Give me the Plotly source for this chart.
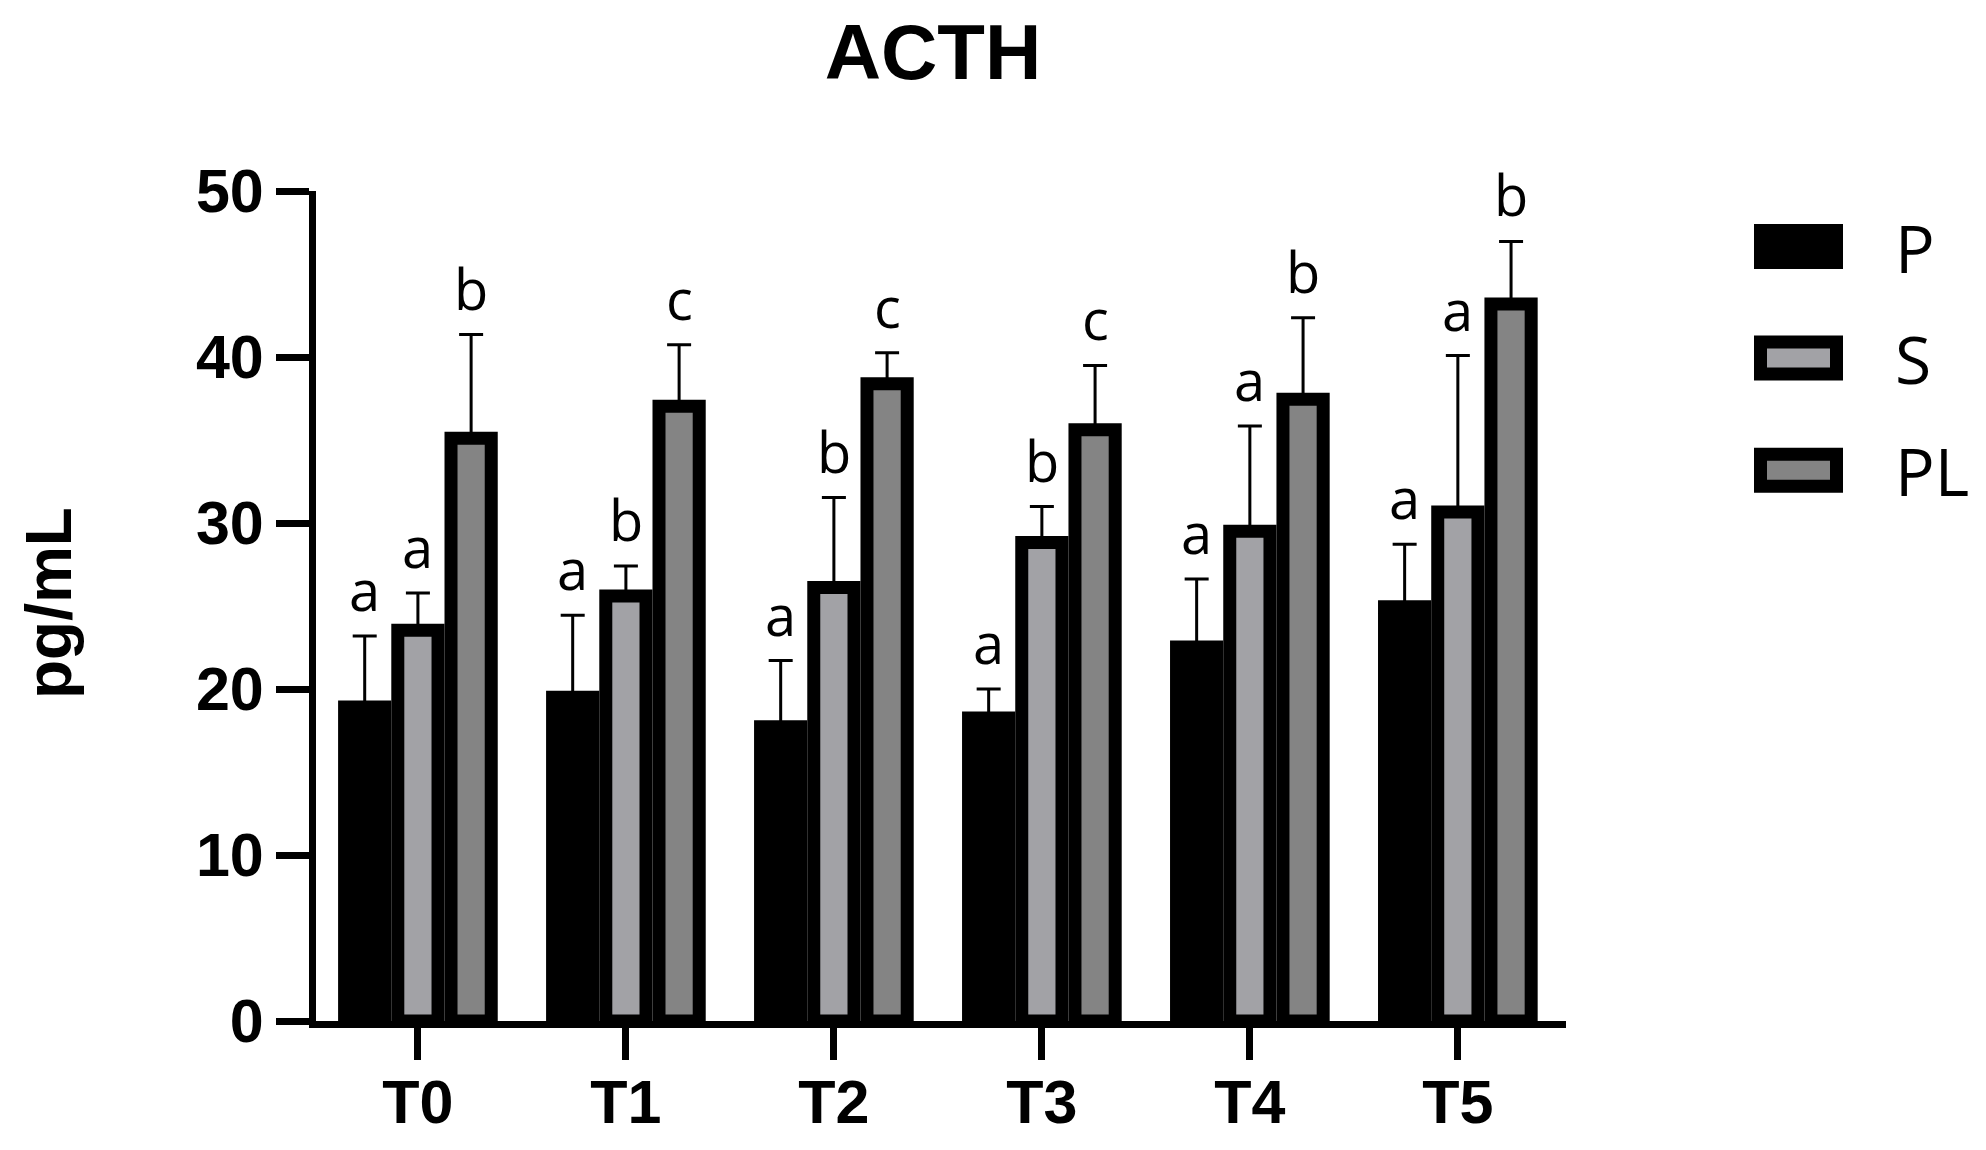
import plotly.graph_objects as go

# ---------------- data ----------------
categories = ["T0", "T1", "T2", "T3", "T4", "T5"]
groups = ["P", "S", "PL"]

p_mean = [18.91, 19.50, 17.73, 18.25, 22.53, 24.95]
p_err = [4.29, 4.95, 3.98, 1.75, 4.09, 3.77]
s_mean = [23.54, 25.60, 26.12, 28.83, 29.50, 30.67]
s_err = [2.25, 1.81, 5.41, 2.16, 6.34, 9.42]
pl_mean = [35.10, 37.03, 38.39, 35.62, 37.45, 43.20]
pl_err = [6.25, 3.71, 1.86, 3.87, 4.91, 3.76]

p_letters = ["a", "a", "a", "a", "a", "a"]
s_letters = ["a", "b", "b", "b", "a", "a"]
pl_letters = ["b", "c", "c", "c", "b", "b"]

y_ticks = [0, 10, 20, 30, 40, 50]

# ---------------- style / geometry ----------------
W, H = 1986, 1150
SH = 8  # page body margin compensation
L, R, T, B = 316 - SH, 420 + SH, 191 - SH, 129 + SH
BARGAP = 0.2325
LW = 13
BARGROUPGAP = 0.244
fills = {"P": "#000000", "S": "#A2A2A6", "PL": "#848484"}

TICK_FONT = dict(family="Liberation Sans, Arial, sans-serif", size=61, color="black", weight="bold")
LETTER_FONT = dict(family="Open Sans, sans-serif", size=56, color="black")
LEGEND_FONT = dict(family="Open Sans, sans-serif", size=66, color="black")

series = [
    ("P", p_mean, p_err, p_letters),
    ("S", s_mean, s_err, s_letters),
    ("PL", pl_mean, pl_err, pl_letters),
]

fig = go.Figure()
for name, mean, err, _ in series:
    fig.add_trace(go.Bar(
        name=name,
        x=categories,
        y=mean,
        marker=dict(color=fills[name], line=dict(color="black", width=LW)),
        error_y=dict(type="data", symmetric=False, array=err,
                     arrayminus=[0] * len(err), color="black",
                     thickness=3, width=12),
        showlegend=False,
    ))

# significance letters above error bars
slot = (1 - BARGAP) / len(series)
annotations = []
for gi, (name, mean, err, letters) in enumerate(series):
    off = (gi - (len(series) - 1) / 2) * slot
    for ci, cat in enumerate(categories):
        annotations.append(dict(
            x=ci + off, y=mean[ci] + err[ci], xref="x", yref="y",
            text=letters[ci], showarrow=False, font=LETTER_FONT,
            xanchor="center", yanchor="middle", yshift=47,
        ))

plot_w = W - L - R
plot_h = H - T - B


def px_x(px):
    return (px - SH - L) / plot_w


def px_y(py):
    return (H - B - (py - SH)) / plot_h


# y-axis title
annotations.append(dict(
    x=px_x(49), y=px_y(603), xref="paper", yref="paper",
    text="pg/mL", textangle=-90, showarrow=False,
    font=dict(family="Liberation Sans, Arial, sans-serif", size=64, color="black", weight="bold"),
    xanchor="center", yanchor="middle",
))

# custom legend
shapes = []
box_x0, box_x1 = 1754, 1843
box_tops = [224, 335.5, 447.7]
box_h = 45
for (name, _, _, _), top in zip(series, box_tops):
    inset = LW / 2
    shapes.append(dict(
        type="rect", xref="paper", yref="paper",
        x0=px_x(box_x0 + inset), x1=px_x(box_x1 - inset),
        y0=px_y(top + box_h - inset), y1=px_y(top + inset),
        fillcolor=fills[name], line=dict(color="black", width=LW),
    ))
    annotations.append(dict(
        x=px_x(1893), y=px_y(top + box_h / 2), xref="paper", yref="paper",
        text=name, showarrow=False, font=LEGEND_FONT,
        xanchor="left", yanchor="middle",
    ))

fig.update_layout(
    width=W, height=H,
    margin=dict(l=L, r=R, t=T, b=B, pad=0),
    paper_bgcolor="white", plot_bgcolor="white",
    barmode="group", bargap=BARGAP, bargroupgap=BARGROUPGAP,
    title=dict(text="ACTH", x=(933 - SH) / W, y=1 - (52 - SH) / H,
               xref="container", yref="container",
               xanchor="center", yanchor="middle",
               font=dict(family="Liberation Sans, Arial, sans-serif", size=78, color="black", weight="bold")),
    annotations=annotations,
    shapes=shapes,
    showlegend=False,
)

fig.update_xaxes(
    range=[-0.49, 5.52], showgrid=False, zeroline=False,
    showline=True, linecolor="black", linewidth=7,
    ticks="outside", ticklen=32, tickwidth=7, tickcolor="black",
    tickfont=TICK_FONT, ticklabelstandoff=-10,
)
fig.update_yaxes(
    range=[0, 50], tickvals=y_ticks, showgrid=False, zeroline=False,
    showline=True, linecolor="black", linewidth=7,
    ticks="outside", ticklen=33, tickwidth=7, tickcolor="black",
    tickfont=TICK_FONT,
)

fig.write_html("out.html")
